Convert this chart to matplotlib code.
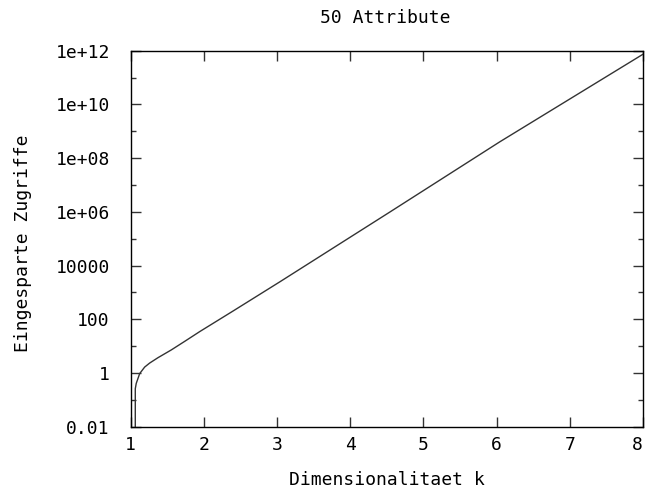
import matplotlib
matplotlib.use("Agg")
import matplotlib.pyplot as plt
from matplotlib.ticker import FixedLocator, FixedFormatter, NullFormatter

# values (log scale, first point lies below the axis)
k_values = [1.063, 1.063, 1.076, 1.123, 1.191, 1.259, 1.372, 1.554, 1.737,
            1.945, 2.40, 3.04, 4.54, 6.04, 8.0]
savings = [1e-3, 0.26, 0.41, 0.95, 1.66, 2.34, 3.7, 7.2, 15,
           35, 204, 2500, 9.8e5, 4.0e8, 7.4e11]

x_ticks = [1, 2, 3, 4, 5, 6, 7, 8]
y_ticks = [1e-2, 1, 1e2, 1e4, 1e6, 1e8, 1e10, 1e12]
y_ticklabels = ["0.01", "1", "100", "10000", "1e+06", "1e+08", "1e+10", "1e+12"]
y_minor = [1e-1, 1e1, 1e3, 1e5, 1e7, 1e9, 1e11]

title = "50 Attribute"
xlabel = "Dimensionalitaet k"
ylabel = "Eingesparte Zugriffe"

plt.rcParams['font.family'] = ['DejaVu Sans Mono']
fs = 13

fig = plt.figure(figsize=(6.45, 4.92), dpi=100)
ax = fig.add_axes([0.2026, 0.1327, 0.997 - 0.2026, 0.897 - 0.1327])

ax.plot(k_values, savings, color='#333333', linewidth=1.0)

ax.set_yscale('log')
ax.set_xlim(1, 8)
ax.set_ylim(1e-2, 1e12)

ax.xaxis.set_major_locator(FixedLocator(x_ticks))
ax.set_xticklabels([str(t) for t in x_ticks])
ax.yaxis.set_major_locator(FixedLocator(y_ticks))
ax.yaxis.set_major_formatter(FixedFormatter(y_ticklabels))
ax.yaxis.set_minor_locator(FixedLocator(y_minor))
ax.yaxis.set_minor_formatter(NullFormatter())
ax.xaxis.set_minor_locator(FixedLocator([]))

ax.tick_params(axis='both', which='major', direction='in', length=7.2, width=1,
               top=True, right=True, labelsize=fs, color='#333333')
ax.tick_params(axis='y', which='minor', direction='in', length=3.6, width=1,
               right=True, color='#333333')
ax.tick_params(axis='y', which='major', pad=15)
ax.tick_params(axis='x', which='major', pad=7)

# last x label sits on the right edge, keep it inside the picture
ax.get_xticklabels()[-1].set_ha('right')

for s in ax.spines.values():
    s.set_linewidth(1)
    s.set_color('black')

fig.text(0.597, 0.963, title, ha='center', va='center', fontsize=fs)
fig.text(0.6, 0.0244, xlabel, ha='center', va='center', fontsize=fs)
fig.text(0.036, 0.506, ylabel, ha='center', va='center', rotation=90, fontsize=fs)

fig.savefig("out.png", dpi=100)
